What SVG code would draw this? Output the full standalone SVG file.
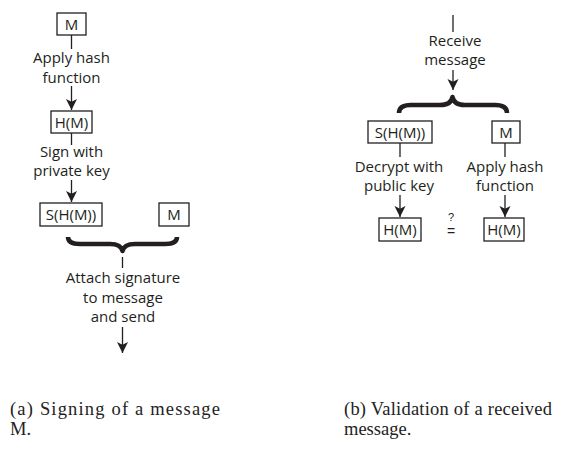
<svg xmlns="http://www.w3.org/2000/svg" width="567" height="462" viewBox="0 0 567 462">
<style>
  .box { fill: #fff; stroke: #231f20; stroke-width: 1.3; }
  .ln { stroke: #231f20; stroke-width: 1.3; fill: none; }
  .arr { stroke: #231f20; stroke-width: 1.3; fill: none; marker-end: url(#ah); }
  .brace { stroke: #231f20; stroke-width: 4.5; fill: none; stroke-linecap: butt; stroke-linejoin: round; }
  .t { font-family: "Open Sans", "Noto Sans", sans-serif; font-size: 15px; fill: #231f20; text-anchor: middle; }
  .sym { font-family: "Liberation Sans", Arial, sans-serif; fill: #231f20; text-anchor: middle; }
  .cap { font-family: "Liberation Serif", serif; font-size: 18.5px; fill: #222; }
</style>
<defs>
  <marker id="ah" markerUnits="userSpaceOnUse" markerWidth="11" markerHeight="12" refX="10" refY="5" orient="auto" viewBox="0 0 10 10">
    <path d="M0,0 L10,5 L0,10 L2.5,5 z" fill="#231f20"/>
  </marker>
</defs>

<g id="connectors">
  <line class="ln" x1="71.5" y1="35" x2="71.5" y2="49"/>
  <line class="arr" x1="71.5" y1="86" x2="71.5" y2="110"/>
  <line class="ln" x1="71.5" y1="133" x2="71.5" y2="145"/>
  <line class="arr" x1="71.5" y1="180" x2="71.5" y2="202"/>
  <path class="brace" d="M68 237 Q68 244 80 244 L110 244 Q121 244 122.5 251 Q124 244 135 244 L165 244 Q177 244 177 237"/>
  <line class="ln" x1="122.5" y1="257" x2="122.5" y2="268"/>
  <line class="arr" x1="122.5" y1="327" x2="122.5" y2="353"/>

  <line class="ln" x1="453" y1="15" x2="453" y2="32"/>
  <line class="arr" x1="453" y1="70" x2="453" y2="90"/>
  <path class="brace" d="M399 113 Q399 105 411 105 L440 105 Q451 105 452.5 97 Q454 105 465 105 L495 105 Q507 105 507 113"/>
  <line class="ln" x1="400" y1="143" x2="400" y2="157"/>
  <line class="ln" x1="505" y1="143" x2="505" y2="157"/>
  <line class="arr" x1="400" y1="195" x2="400" y2="217"/>
  <line class="arr" x1="505" y1="195" x2="505" y2="217"/>
</g>

<g id="node-m-a">
  <rect class="box" x="57" y="13" width="29" height="22"/>
  <text class="t" x="71.5" y="29.5">M</text>
</g>
<g id="label-apply-hash-a">
  <text class="t" x="71.5" y="63">Apply hash</text>
  <text class="t" x="71.5" y="83">function</text>
</g>
<g id="node-hm-a">
  <rect class="box" x="51" y="111" width="41" height="22"/>
  <text class="t" x="71.5" y="127.5">H(M)</text>
</g>
<g id="label-sign">
  <text class="t" x="71.5" y="157">Sign with</text>
  <text class="t" x="71.5" y="176">private key</text>
</g>
<g id="node-shm-a">
  <rect class="box" x="40" y="203" width="62" height="23"/>
  <text class="t" x="71" y="219.5">S(H(M))</text>
</g>
<g id="node-m2-a">
  <rect class="box" x="159" y="203" width="30" height="23"/>
  <text class="t" x="174" y="219.5">M</text>
</g>
<g id="label-attach">
  <text class="t" x="123" y="283">Attach signature</text>
  <text class="t" x="123" y="303">to message</text>
  <text class="t" x="123" y="322">and send</text>
</g>

<g id="label-receive">
  <text class="t" x="455" y="46">Receive</text>
  <text class="t" x="455" y="65">message</text>
</g>
<g id="node-shm-b">
  <rect class="box" x="368" y="121" width="64" height="22"/>
  <text class="t" x="400" y="137.5">S(H(M))</text>
</g>
<g id="node-m-b">
  <rect class="box" x="492" y="121" width="28" height="22"/>
  <text class="t" x="506" y="137.5">M</text>
</g>
<g id="label-decrypt">
  <text class="t" x="399" y="172">Decrypt with</text>
  <text class="t" x="399" y="191">public key</text>
</g>
<g id="label-apply-hash-b">
  <text class="t" x="505" y="172">Apply hash</text>
  <text class="t" x="505" y="191">function</text>
</g>
<g id="node-hm-b1">
  <rect class="box" x="379" y="218" width="42" height="23"/>
  <text class="t" x="400" y="235">H(M)</text>
</g>
<g id="node-hm-b2">
  <rect class="box" x="484" y="218" width="40" height="23"/>
  <text class="t" x="504" y="235">H(M)</text>
</g>
<g id="label-compare">
  <text class="sym" x="451" y="221" style="font-size:11px">?</text>
  <text class="sym" x="451" y="235.5" style="font-size:14px">=</text>
</g>

<g id="captions">
  <text class="cap" x="10" y="415" textLength="210" lengthAdjust="spacing">(a) Signing of a message</text>
  <text class="cap" x="10" y="435">M.</text>
  <text class="cap" x="344" y="415" textLength="208" lengthAdjust="spacing">(b) Validation of a received</text>
  <text class="cap" x="344" y="435">message.</text>
</g>
</svg>
